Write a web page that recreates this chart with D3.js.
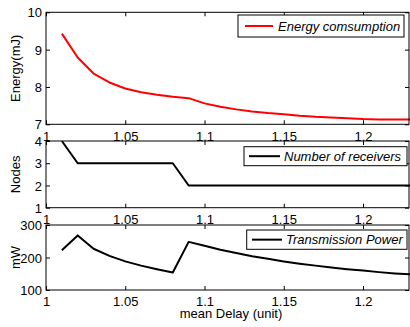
<!DOCTYPE html>
<html><head><meta charset="utf-8">
<script src="https://cdn.jsdelivr.net/npm/d3@7"></script>
<style>
html,body{margin:0;padding:0;background:#fff;}
svg{display:block;}
text{font-family:"Liberation Sans",Arial,Helvetica,sans-serif;}
</style></head>
<body>
<svg id="chart" width="410" height="327"></svg>
<script>
const delays = [1.01,1.02,1.03,1.04,1.05,1.06,1.07,1.08,1.09,1.10,1.11,1.12,1.13,1.14,1.15,1.16,1.17,1.18,1.19,1.20,1.21,1.22,1.23];
const energy = [9.43,8.79,8.36,8.12,7.96,7.86,7.79,7.74,7.70,7.56,7.47,7.40,7.34,7.30,7.27,7.23,7.20,7.18,7.16,7.14,7.13,7.13,7.13];
const nodes  = [4,3,3,3,3,3,3,3,2,2,2,2,2,2,2,2,2,2,2,2,2,2,2];
const power  = [222,268,227,205,188,175,164,154,248,236,224,214,204,196,188,181,175,169,164,160,155,151,148];
const xTicks = [1,1.05,1.1,1.15,1.2];
const xTickLabels = ["1","1.05","1.1","1.15","1.2"];
const panels = [
  {ylabel:"Energy(mJ)", values:energy, domain:[7,10], ticks:[7,8,9,10], legend:"Energy comsumption", color:"#ff0000"},
  {ylabel:"Nodes", values:nodes, domain:[1,4], ticks:[1,2,3,4], legend:"Number of receivers", color:"#000000"},
  {ylabel:"mW", values:power, domain:[100,300], ticks:[100,200,300], legend:"Transmission Power", color:"#000000"}
];
const xlabel = "mean Delay (unit)";

const layout = [
  {top:12.3, bottom:124.3, lg:{x:238, y:15, w:166, h:22, lx1:245, lx2:273, tx:278}},
  {top:141, bottom:207.7, lg:{x:244, y:146.7, w:163, h:19, lx1:249, lx2:280, tx:284}},
  {top:225, bottom:290, lg:{x:246.7, y:230, w:160.3, h:19.3, lx1:252, lx2:282, tx:286}}
];
const L = 46, R = 409;
const svg = d3.select("#chart");
const x = d3.scaleLinear().domain([1, 1.229]).range([L, R]);
const fs = 13;

panels.forEach((p, i) => {
  const ly = layout[i];
  const y = d3.scaleLinear().domain(p.domain).range([ly.bottom, ly.top]);
  const g = svg.append("g");
  g.append("path")
    .datum(delays.map((d, j) => [d, p.values[j]]))
    .attr("fill", "none").attr("stroke", p.color).attr("stroke-width", 2)
    .attr("stroke-linejoin", "round")
    .attr("d", d3.line().x(d => x(d[0])).y(d => y(d[1])));
  const ax = (gen, tr) => {
    const a = g.append("g").attr("transform", tr).call(gen);
    a.select(".domain").remove();
    a.selectAll("line").attr("stroke", "#000");
    a.selectAll("text").attr("font-size", fs).attr("fill", "#000")
      .style("font-family", "'Liberation Sans',Arial,sans-serif");
    return a;
  };
  ax(d3.axisBottom(x).tickValues(xTicks).tickFormat((d, k) => xTickLabels[k]).tickSizeInner(-4).tickSizeOuter(0).tickPadding(7), `translate(0,${ly.bottom})`);
  ax(d3.axisTop(x).tickValues(xTicks).tickFormat("").tickSizeInner(-4).tickSizeOuter(0), `translate(0,${ly.top})`);
  ax(d3.axisLeft(y).tickValues(p.ticks).tickFormat(d3.format("d")).tickSizeInner(-4).tickSizeOuter(0).tickPadding(4), `translate(${L},0)`)
    .selectAll("text").attr("dy", "0.36em");
  ax(d3.axisRight(y).tickValues(p.ticks).tickFormat("").tickSizeInner(-4).tickSizeOuter(0), `translate(${R},0)`);
  g.append("rect").attr("x", L).attr("y", ly.top).attr("width", R - L).attr("height", ly.bottom - ly.top)
    .attr("fill", "none").attr("stroke", "#000").attr("stroke-width", 1);
  g.append("text").attr("transform", `translate(19.5,${(ly.top + ly.bottom) / 2}) rotate(-90)`)
    .attr("text-anchor", "middle").attr("font-size", fs).text(p.ylabel);
  const lg = ly.lg;
  g.append("rect").attr("x", lg.x).attr("y", lg.y).attr("width", lg.w).attr("height", lg.h)
    .attr("fill", "#fff").attr("stroke", "#000").attr("stroke-width", 1);
  g.append("line").attr("x1", lg.lx1).attr("x2", lg.lx2).attr("y1", lg.y + lg.h / 2).attr("y2", lg.y + lg.h / 2)
    .attr("stroke", p.color).attr("stroke-width", 2);
  g.append("text").attr("x", lg.tx).attr("y", lg.y + lg.h / 2 + 4.6).attr("font-size", fs)
    .attr("font-style", "italic").text(p.legend);
});

svg.append("text").attr("x", 231).attr("y", 317.5).attr("text-anchor", "middle")
  .attr("font-size", fs).text(xlabel);
</script>
</body></html>
